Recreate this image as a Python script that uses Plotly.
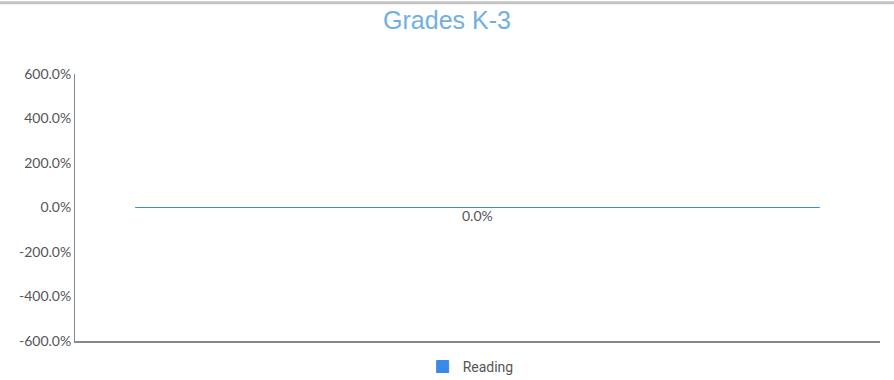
import plotly.graph_objects as go

categories = ["Grades K-3"]
reading = [0.0]
tick_vals = [-6, -4, -2, 0, 2, 4, 6]
tick_text = ["-600.0%", "-400.0%", "-200.0%", "0.0%", "200.0%", "400.0%", "600.0%"]

fig = go.Figure()
fig.add_trace(go.Bar(
    x=categories, y=reading, name="Reading", width=0.85,
    marker=dict(color="#3a89e8", line=dict(color="#3a89e8", width=1)),
))
for c, v in zip(categories, reading):
    fig.add_annotation(x=c, y=v, text=f"{v*100:.1f}%", showarrow=False,
                       yanchor="top", yshift=3,
                       font=dict(family="Lato", size=14, color="#555555"))

# grey rule across the top of the chart
fig.add_shape(type="line", xref="paper", yref="paper", x0=-0.1, x1=1.1,
              y0=1.267, y1=1.267, line=dict(color="#c4c4c4", width=3))

fig.update_layout(
    width=894, height=380,
    margin=dict(l=75, r=14, t=74, b=39, autoexpand=False),
    paper_bgcolor="white", plot_bgcolor="white",
    title=dict(text="Grades K-3", x=0.5, xanchor="center", y=0.947, yanchor="middle",
               font=dict(family="Liberation Sans", size=25, color="#70b0e0")),
    xaxis=dict(showticklabels=False, showline=True, linecolor="#888888", linewidth=1.5,
               showgrid=False, zeroline=False, ticks=""),
    yaxis=dict(range=[-6, 6], tickvals=tick_vals, ticktext=tick_text,
               showline=True, linecolor="#888888", linewidth=1, showgrid=False,
               zeroline=False, tickfont=dict(family="Lato", size=14, color="#555555")),
    legend=dict(orientation="h", x=0.4915, xanchor="center", y=-0.097, yanchor="middle",
                font=dict(family="Roboto", size=14, color="#555555")),
    showlegend=True,
)
fig.write_html("out.html", config={"displayModeBar": False},
               post_script="document.body.style.margin='0';")
